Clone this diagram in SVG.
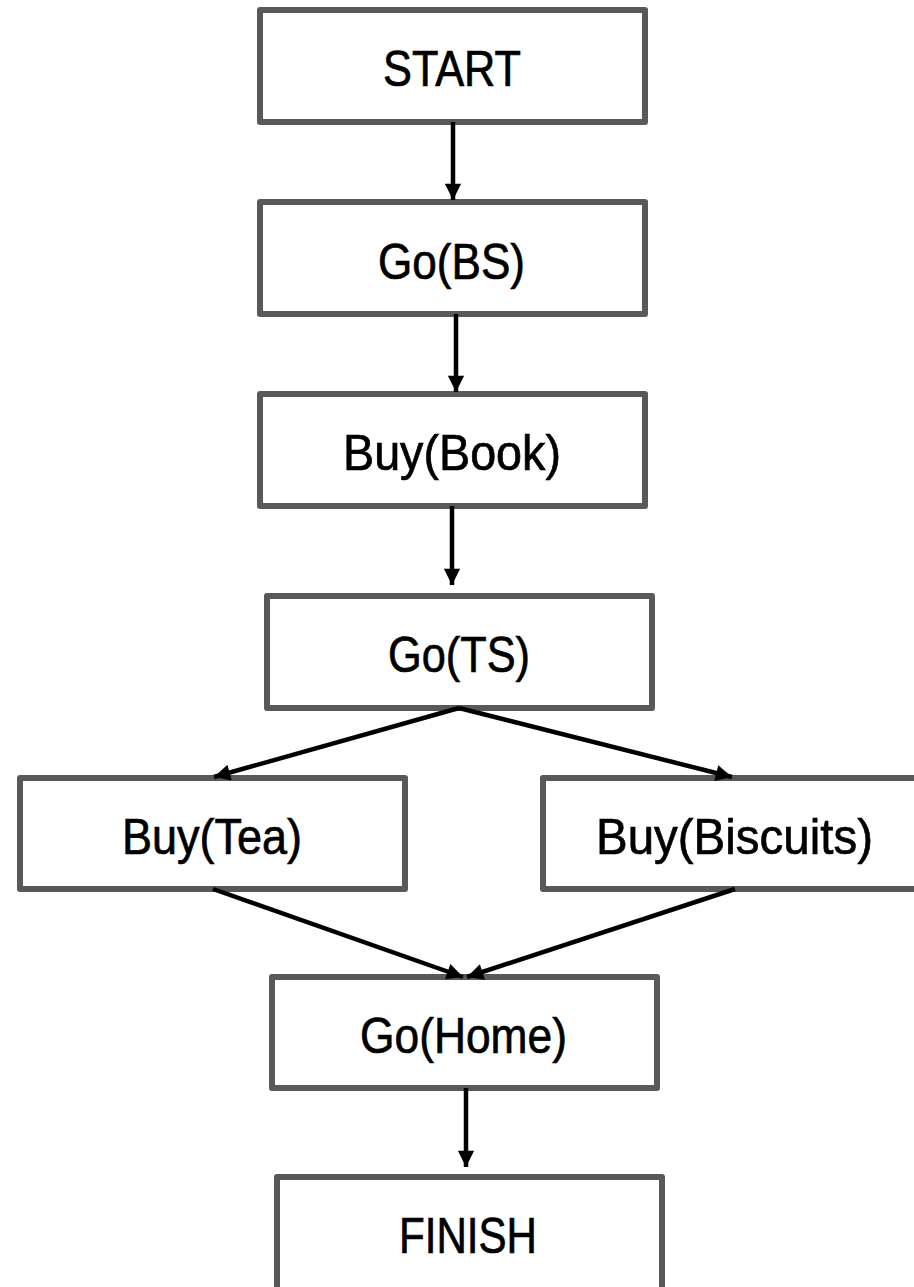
<svg xmlns="http://www.w3.org/2000/svg" width="914" height="1287" viewBox="0 0 914 1287">
<style>
.box{fill:#fff;stroke:#595959;stroke-width:6;stroke-linejoin:round}
.lbl{font-family:"Liberation Sans",Arial,sans-serif;font-size:50px;fill:#000;stroke:#000;stroke-width:0.7;text-anchor:middle}
.edge{stroke:#000;stroke-width:4.5;fill:none}
</style>
<defs>
<marker id="ah" viewBox="0 0 10 10" refX="10" refY="5" markerWidth="4" markerHeight="3.6" orient="auto" markerUnits="strokeWidth">
<path d="M0,0 L10,5 L0,10 z" fill="#000"/>
</marker>
</defs>
<rect width="914" height="1287" fill="#fff"/>
<g id="n-start"><rect class="box" x="260" y="10" width="385" height="112"/><text class="lbl" x="452" y="86" textLength="138" lengthAdjust="spacingAndGlyphs">START</text></g>
<g id="n-gobs"><rect class="box" x="260" y="202" width="385" height="112"/><text class="lbl" x="451.5" y="279" textLength="147" lengthAdjust="spacingAndGlyphs">Go(BS)</text></g>
<g id="n-buybook"><rect class="box" x="260" y="394" width="385" height="112"/><text class="lbl" x="452" y="470" textLength="218" lengthAdjust="spacingAndGlyphs">Buy(Book)</text></g>
<g id="n-gots"><rect class="box" x="267" y="596" width="385" height="112"/><text class="lbl" x="459" y="672" textLength="142" lengthAdjust="spacingAndGlyphs">Go(TS)</text></g>
<g id="n-buytea"><rect class="box" x="20" y="778" width="385" height="111"/><text class="lbl" x="212" y="854" textLength="180" lengthAdjust="spacingAndGlyphs">Buy(Tea)</text></g>
<g id="n-buybiscuits"><rect class="box" x="543" y="778" width="385" height="111"/><text class="lbl" x="734.5" y="854" textLength="277" lengthAdjust="spacingAndGlyphs">Buy(Biscuits)</text></g>
<g id="n-gohome"><rect class="box" x="272" y="977" width="385" height="111"/><text class="lbl" x="463.5" y="1053" textLength="207" lengthAdjust="spacingAndGlyphs">Go(Home)</text></g>
<g id="n-finish"><rect class="box" x="277" y="1177" width="385" height="120"/><text class="lbl" x="468" y="1253" textLength="138" lengthAdjust="spacingAndGlyphs">FINISH</text></g>
<g id="connectors">
<line class="edge" x1="453" y1="122" x2="453" y2="200" marker-end="url(#ah)"/>
<line class="edge" x1="456" y1="314" x2="456" y2="392" marker-end="url(#ah)"/>
<line class="edge" x1="452" y1="506" x2="452" y2="585" marker-end="url(#ah)"/>
<line class="edge" x1="459" y1="708" x2="214" y2="777" marker-end="url(#ah)"/>
<line class="edge" x1="459" y1="708" x2="732" y2="777" marker-end="url(#ah)"/>
<line class="edge" x1="213" y1="889" x2="463" y2="977" marker-end="url(#ah)"/>
<line class="edge" x1="735" y1="889" x2="467" y2="977" marker-end="url(#ah)"/>
<line class="edge" x1="466" y1="1088" x2="466" y2="1167" marker-end="url(#ah)"/>
</g>
</svg>
